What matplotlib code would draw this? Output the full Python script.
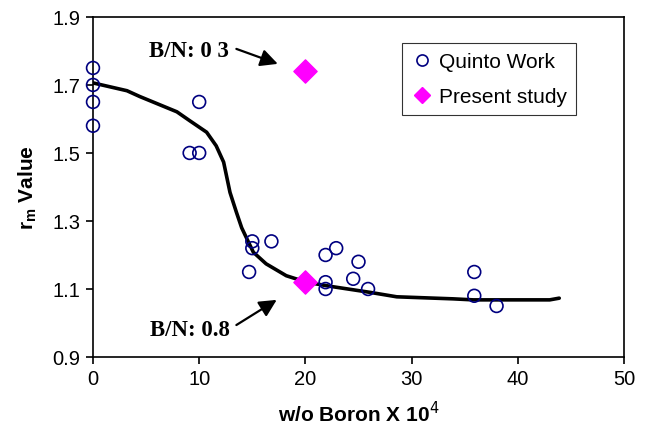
import matplotlib
matplotlib.use("Agg")
import matplotlib.pyplot as plt
from matplotlib.lines import Line2D

# Quinto work data
quinto_x = [0, 0, 0, 0, 9.1, 10, 10, 15, 15, 14.7, 16.8, 21.9, 22.9, 21.9, 21.9, 25.0, 24.5, 25.9, 35.9, 35.9, 38.0]
quinto_y = [1.75, 1.70, 1.65, 1.58, 1.50, 1.50, 1.65, 1.24, 1.22, 1.15, 1.24, 1.20, 1.22, 1.12, 1.10, 1.18, 1.13, 1.10, 1.15, 1.08, 1.05]

# Present study
present_x = [20, 20]
present_y = [1.74, 1.12]

# Trend curve
curve_x = [0, 3.2, 4.4, 7.9, 9.1, 10.7, 11.6, 12.3, 12.9, 13.5, 14.0, 14.5, 15.1, 16.3, 18.2, 20.1, 22.3, 26.1, 28.6, 33.9, 35.8, 43.0, 43.9]
curve_y = [1.706, 1.683, 1.666, 1.621, 1.595, 1.561, 1.521, 1.473, 1.384, 1.326, 1.28, 1.247, 1.208, 1.174, 1.139, 1.12, 1.108, 1.09, 1.077, 1.071, 1.068, 1.068, 1.073]

xticks = [0, 10, 20, 30, 40, 50]
yticks = [0.9, 1.1, 1.3, 1.5, 1.7, 1.9]

# Annotations: label, text position, arrow start, arrow end
ann_labels = ['B/N: 0 3', 'B/N: 0.8']
ann_text_xy = [(12.8, 1.80), (12.9, 0.982)]
ann_arrow_from = [(13.5, 1.806), (13.5, 0.994)]
ann_arrow_to = [(17.4, 1.762), (17.3, 1.068)]

plt.rcParams['font.family'] = ['Liberation Sans', 'DejaVu Sans']

fig = plt.figure(figsize=(6.48, 4.27), dpi=100)
ax = fig.add_axes([0.1435, 0.1616, 0.8195, 0.7964])

ax.plot(curve_x, curve_y, color='black', lw=2.6, zorder=2, solid_joinstyle='round', solid_capstyle='round')
ax.scatter(quinto_x, quinto_y, s=85, facecolors='none', edgecolors='#000080', linewidths=1.2,
           zorder=3, clip_on=False)
ax.scatter(present_x, present_y, s=140, marker='D', color='#FF00FF', zorder=4, clip_on=False)

ax.set_xlim(0, 50)
ax.set_ylim(0.9, 1.9)
ax.set_xticks(xticks)
ax.set_yticks(yticks)
ax.set_xticklabels([str(v) for v in xticks])
ax.set_yticklabels([f"{v:.1f}" for v in yticks])
ax.tick_params(axis='both', direction='out', length=5, width=1.2, labelsize=14.5, colors='black', pad=4)
for s in ax.spines.values():
    s.set_linewidth(1.2)

ax.set_xlabel('w/o Boron X 10$^{4}$', fontsize=15, fontweight='bold', labelpad=8)
ax.set_ylabel(r'r$_{\mathregular{m}}$ Value', fontsize=15, fontweight='bold', labelpad=10)

for lab, txy, a0, a1 in zip(ann_labels, ann_text_xy, ann_arrow_from, ann_arrow_to):
    ax.text(txy[0], txy[1], lab, fontsize=16.5, fontweight='bold', family='Liberation Serif',
            ha='right', va='center')
    ax.annotate('', xy=a1, xytext=a0,
                arrowprops=dict(arrowstyle='-|>', color='black', lw=1.6, mutation_scale=26,
                                shrinkA=0, shrinkB=0))

handles = [
    Line2D([], [], ls='none', marker='o', markersize=8, markerfacecolor='none',
           markeredgecolor='#000080', markeredgewidth=1.2),
    Line2D([], [], ls='none', marker='D', markersize=8.5, color='#FF00FF'),
]
leg = ax.legend(handles, ['Quinto Work', 'Present study'], loc='upper left',
                bbox_to_anchor=(0.582, 0.9235), fontsize=15, frameon=True,
                fancybox=False, edgecolor='black', handletextpad=0.3, borderpad=0.45,
                handlelength=1.0, labelspacing=0.75, borderaxespad=0)
leg.get_frame().set_linewidth(0.8)

fig.savefig('out.png', dpi=100)
